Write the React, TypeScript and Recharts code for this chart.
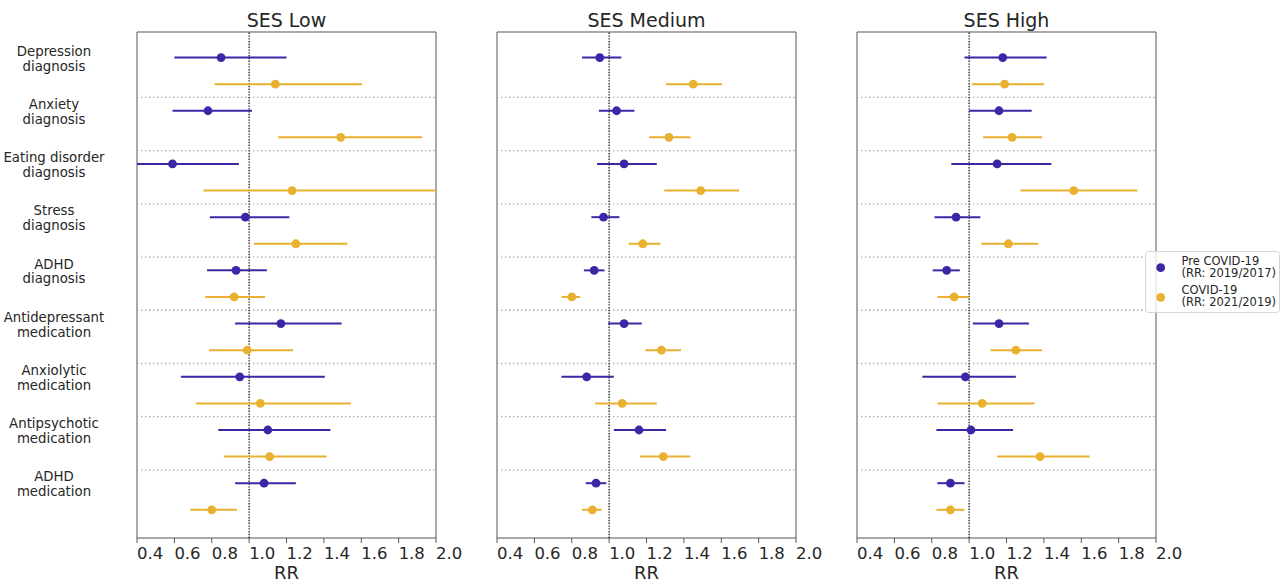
import React from 'react';
import { ScatterChart, Scatter, XAxis, YAxis, ErrorBar, ReferenceLine, ReferenceArea } from 'recharts';

// ---------- data ----------
const categoryLines: string[][] = [
  ['Depression', 'diagnosis'],
  ['Anxiety', 'diagnosis'],
  ['Eating disorder', 'diagnosis'],
  ['Stress', 'diagnosis'],
  ['ADHD', 'diagnosis'],
  ['Antidepressant', 'medication'],
  ['Anxiolytic', 'medication'],
  ['Antipsychotic', 'medication'],
  ['ADHD', 'medication'],
];
const xTicks = [0.4, 0.6, 0.8, 1.0, 1.2, 1.4, 1.6, 1.8, 2.0];
const xTickLabels = ['0.4', '0.6', '0.8', '1.0', '1.2', '1.4', '1.6', '1.8', '2.0'];
const panelTitles = ['SES Low', 'SES Medium', 'SES High'];
const seriesLabels: string[][] = [
  ['Pre COVID-19', '(RR: 2019/2017)'],
  ['COVID-19', '(RR: 2021/2019)'],
];
const xLabel = 'RR';

// SES Low
const lowPreRR = [0.85, 0.78, 0.59, 0.98, 0.93, 1.17, 0.95, 1.10, 1.08];
const lowPreLo = [0.60, 0.59, 0.38, 0.79, 0.775, 0.925, 0.635, 0.835, 0.925];
const lowPreHi = [1.20, 1.015, 0.945, 1.215, 1.095, 1.495, 1.405, 1.435, 1.25];
const lowCovRR = [1.14, 1.49, 1.23, 1.25, 0.92, 0.99, 1.06, 1.11, 0.80];
const lowCovLo = [0.815, 1.155, 0.755, 1.025, 0.765, 0.785, 0.715, 0.865, 0.685];
const lowCovHi = [1.605, 1.925, 2.05, 1.525, 1.085, 1.235, 1.545, 1.415, 0.935];

// SES Medium
const medPreRR = [0.95, 1.04, 1.08, 0.97, 0.92, 1.08, 0.88, 1.16, 0.93];
const medPreLo = [0.855, 0.945, 0.935, 0.905, 0.865, 0.995, 0.745, 1.025, 0.875];
const medPreHi = [1.065, 1.135, 1.255, 1.055, 0.975, 1.175, 1.025, 1.305, 0.985];
const medCovRR = [1.45, 1.32, 1.49, 1.18, 0.80, 1.28, 1.07, 1.29, 0.91];
const medCovLo = [1.305, 1.215, 1.295, 1.105, 0.745, 1.195, 0.925, 1.165, 0.855];
const medCovHi = [1.605, 1.435, 1.695, 1.275, 0.845, 1.385, 1.255, 1.435, 0.96];

// SES High
const highPreRR = [1.18, 1.16, 1.15, 0.93, 0.88, 1.16, 0.98, 1.01, 0.90];
const highPreLo = [0.975, 1.0, 0.905, 0.815, 0.805, 1.02, 0.75, 0.825, 0.83];
const highPreHi = [1.415, 1.335, 1.44, 1.06, 0.95, 1.32, 1.25, 1.235, 0.975];
const highCovRR = [1.19, 1.23, 1.56, 1.21, 0.92, 1.25, 1.07, 1.38, 0.90];
const highCovLo = [1.015, 1.075, 1.275, 1.065, 0.83, 1.115, 0.83, 1.15, 0.825];
const highCovHi = [1.40, 1.39, 1.90, 1.37, 1.0, 1.39, 1.35, 1.645, 0.975];

// ---------- styling ----------
const FONT = '"DejaVu Sans", Verdana, sans-serif';
const TEXT = '#262626';
const PURPLE = '#3b27a6';
const YELLOW = '#e9b12f';
const SEP = '#aba1a1';
const COLORS = [PURPLE, YELLOW];
const Y_DOMAIN: [number, number] = [-0.73, 8.78];
const PLOT_TOP = 32;
const PLOT_BOTTOM = 538;
const PLOT_W = 299;

const build = (rr: number[], lo: number[], hi: number[], offset: number) =>
  rr.map((v, i) => ({ x: v, y: i + offset, err: [v - lo[i], hi[i] - v] }));

const panels = [
  { title: panelTitles[0], pre: build(lowPreRR, lowPreLo, lowPreHi, -0.25), cov: build(lowCovRR, lowCovLo, lowCovHi, 0.25) },
  { title: panelTitles[1], pre: build(medPreRR, medPreLo, medPreHi, -0.25), cov: build(medCovRR, medCovLo, medCovHi, 0.25) },
  { title: panelTitles[2], pre: build(highPreRR, highPreLo, highPreHi, -0.25), cov: build(highCovRR, highCovLo, highCovHi, 0.25) },
];

const yTicks = categoryLines.map((_, i) => i - 0.25);
const separators = categoryLines.slice(1).map((_, i) => i + 0.5);

const XTick = (props: any) => {
  const { x, payload } = props;
  const idx = xTicks.findIndex((t) => Math.abs(t - payload.value) < 1e-6);
  return (
    <text x={x} y={559} textAnchor="start" fontSize={16.5} fontFamily={FONT} fill={TEXT}>
      {idx >= 0 ? xTickLabels[idx] : payload.value}
    </text>
  );
};

const YTick = (props: any) => {
  const { y, payload } = props;
  const idx = Math.round(payload.value + 0.25);
  const lines = categoryLines[idx] || [];
  return (
    <text textAnchor="middle" fontSize={13.3} fontFamily={FONT} fill={TEXT}>
      {lines.map((l, k) => (
        <tspan key={k} x={54} y={y + (k === 0 ? -6.2 : 8.6)} dominantBaseline="central">
          {l}
        </tspan>
      ))}
    </text>
  );
};

const makeDot = (color: string) => (props: any) => {
  const { cx, cy } = props;
  if (cx == null || cy == null) return <g />;
  return <circle cx={cx} cy={cy} r={4.4} fill={color} />;
};
const purpleDot = makeDot(PURPLE);
const yellowDot = makeDot(YELLOW);

const chartGeom = [
  { left: 0, width: 470, marginLeft: 0, yWidth: 137 },
  { left: 470, width: 360, marginLeft: 27, yWidth: 0 },
  { left: 830, width: 360, marginLeft: 27, yWidth: 0 },
];

const Panel = ({ idx }: { idx: number }) => {
  const p = panels[idx];
  const g = chartGeom[idx];
  const plotLeft = g.marginLeft + g.yWidth;
  const marginRight = g.width - plotLeft - PLOT_W;
  return (
    <div
      className={`forest-panel forest-panel-${idx === 0 ? 'a' : 'b'}`}
      style={{ position: 'absolute', left: g.left, top: 0, width: g.width, height: 582 }}
    >
      <ScatterChart
        width={g.width}
        height={582}
        margin={{ top: PLOT_TOP, right: marginRight, bottom: 0, left: g.marginLeft }}
      >
        <XAxis
          type="number"
          dataKey="x"
          domain={[0.4, 2.0]}
          ticks={xTicks}
          allowDataOverflow
          height={582 - PLOT_BOTTOM}
          axisLine={false}
          tickLine={{ stroke: '#555', strokeWidth: 1 }}
          tickSize={5}
          tick={<XTick />}
          interval={0}
        />
        <YAxis
          type="number"
          dataKey="y"
          domain={Y_DOMAIN}
          allowDataOverflow
          reversed
          ticks={yTicks}
          interval={0}
          width={g.yWidth}
          hide={idx !== 0}
          axisLine={false}
          tickLine={false}
          tick={<YTick />}
        />
        {separators.map((s) => (
          <ReferenceLine key={s} y={s} stroke={SEP} strokeWidth={1.3} strokeDasharray="1.3 2.7" />
        ))}
        <ReferenceLine x={1} stroke="#1a1a1a" strokeWidth={1.3} strokeDasharray="1.4 1.4" />
        <ReferenceArea
          x1={0.4}
          x2={2.0}
          y1={Y_DOMAIN[0]}
          y2={Y_DOMAIN[1]}
          fill="none"
          stroke="#555"
          strokeWidth={1}
          ifOverflow="visible"
        />
        <Scatter data={p.pre} fill={PURPLE} shape={purpleDot} isAnimationActive={false}>
          <ErrorBar dataKey="err" direction="x" width={0} stroke={PURPLE} strokeWidth={2} isAnimationActive={false} />
        </Scatter>
        <Scatter data={p.cov} fill={YELLOW} shape={yellowDot} isAnimationActive={false}>
          <ErrorBar dataKey="err" direction="x" width={0} stroke={YELLOW} strokeWidth={2} isAnimationActive={false} />
        </Scatter>
      </ScatterChart>
    </div>
  );
};

const Overlay = () => {
  const plotLefts = [137, 497, 857];
  return (
    <svg
      width={1285}
      height={582}
      style={{ position: 'absolute', left: 0, top: 0, pointerEvents: 'none' }}
    >
      <defs>
        <clipPath id="forestClipA" clipPathUnits="userSpaceOnUse">
          <rect x={137} y={PLOT_TOP} width={PLOT_W} height={PLOT_BOTTOM - PLOT_TOP} />
        </clipPath>
        <clipPath id="forestClipB" clipPathUnits="userSpaceOnUse">
          <rect x={27} y={PLOT_TOP} width={PLOT_W} height={PLOT_BOTTOM - PLOT_TOP} />
        </clipPath>
      </defs>
      {plotLefts.map((l, i) => (
        <g key={i}>
          <text x={l + PLOT_W / 2} y={27.3} textAnchor="middle" fontSize={19} fontFamily={FONT} fill={TEXT}>
            {panelTitles[i]}
          </text>
          <text x={l + PLOT_W / 2} y={578.5} textAnchor="middle" fontSize={18} fontFamily={FONT} fill={TEXT}>
            {xLabel}
          </text>
        </g>
      ))}
      <rect x={1145.5} y={251.5} width={134} height={61} rx={3} fill="#fff" fillOpacity={0.8} stroke="#d6d6d6" />
      {seriesLabels.map((lines, i) => (
        <g key={i}>
          <circle cx={1160.7} cy={267.7 + i * 29.6} r={4.4} fill={COLORS[i]} />
          {lines.map((t, k) => (
            <text
              key={k}
              x={1181.5}
              y={265 + i * 29.4 + k * 12}
              fontSize={11.5}
              fontFamily={FONT}
              fill={TEXT}
            >
              {t}
            </text>
          ))}
        </g>
      ))}
    </svg>
  );
};

const clipCss = `
.forest-panel-a .recharts-errorBars, .forest-panel-a .recharts-errorBar { clip-path: url(#forestClipA); }
.forest-panel-b .recharts-errorBars, .forest-panel-b .recharts-errorBar { clip-path: url(#forestClipB); }
`;

export default function App() {
  return (
    <div style={{ position: 'absolute', left: 0, top: 0, width: 1285, height: 582, background: '#fff' }}>
      <style>{clipCss}</style>
      <Panel idx={0} />
      <Panel idx={1} />
      <Panel idx={2} />
      <Overlay />
    </div>
  );
}
